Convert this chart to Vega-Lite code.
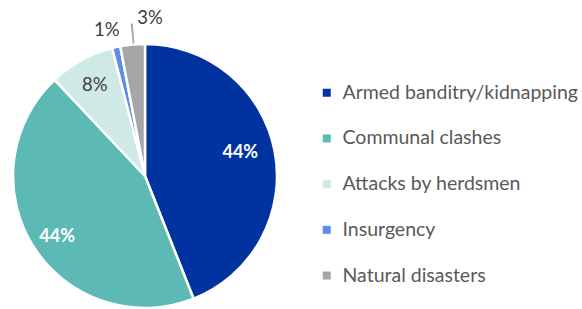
{
  "$schema": "https://vega.github.io/schema/vega-lite/v6.json",
  "width": 290,
  "height": 262,
  "autosize": "none",
  "padding": {"left": 0, "top": 45, "right": 292, "bottom": 2},
  "background": "white",
  "config": {"view": {"stroke": null}, "font": "Lato"},
  "layer": [
    {
      "data": {"values": [
        {"category": "Armed banditry/kidnapping", "value": 44, "label": "44%", "order": 1},
        {"category": "Communal clashes", "value": 44, "label": "44%", "order": 2},
        {"category": "Attacks by herdsmen", "value": 8, "label": "8%", "order": 3},
        {"category": "Insurgency", "value": 1, "label": "1%", "order": 4},
        {"category": "Natural disasters", "value": 3, "label": "3%", "order": 5}
      ]},
      "encoding": {
        "theta": {"field": "value", "type": "quantitative", "stack": true},
        "order": {"field": "order", "type": "quantitative"},
        "color": {
          "field": "category",
          "type": "nominal",
          "sort": ["Armed banditry/kidnapping", "Communal clashes", "Attacks by herdsmen", "Insurgency", "Natural disasters"],
          "scale": {
            "domain": ["Armed banditry/kidnapping", "Communal clashes", "Attacks by herdsmen", "Insurgency", "Natural disasters"],
            "range": ["#0033A0", "#5DB9B3", "#CFE9E6", "#5B8EE6", "#A6A6A6"]
          },
          "legend": {
            "title": null,
            "orient": "none",
            "legendX": 317,
            "legendY": 38,
            "padding": 0,
            "symbolType": "square",
            "symbolSize": 64,
            "symbolStrokeWidth": 0,
            "labelFont": "Lato",
            "labelFontSize": 19.5,
            "labelColor": "#595959",
            "labelOffset": 6,
            "labelLimit": 0,
            "rowPadding": 24.7
          }
        }
      },
      "layer": [
        {"mark": {"type": "arc", "outerRadius": 132, "stroke": "white", "strokeWidth": 2.5}},
        {
          "mark": {"type": "text", "radius": 97, "dy": -5, "font": "Lato", "fontSize": 18, "fontWeight": "bold"},
          "encoding": {
            "text": {"condition": {"test": "datum.order == 1", "field": "label"}, "value": ""},
            "color": {"value": "white"}
          }
        },
        {
          "mark": {"type": "text", "radius": 97, "dx": -6, "dy": 9, "font": "Lato", "fontSize": 18, "fontWeight": "bold"},
          "encoding": {
            "text": {"condition": {"test": "datum.order == 2", "field": "label"}, "value": ""},
            "color": {"value": "white"}
          }
        },
        {
          "mark": {"type": "text", "radius": 104, "font": "Lato", "fontSize": 18.5},
          "encoding": {
            "text": {"condition": {"test": "datum.order == 3", "field": "label"}, "value": ""},
            "color": {"value": "#404040"}
          }
        },
        {
          "mark": {"type": "text", "radius": 152, "dx": -5, "dy": 2, "font": "Lato", "fontSize": 18.5},
          "encoding": {
            "text": {"condition": {"test": "datum.order == 4", "field": "label"}, "value": ""},
            "color": {"value": "#404040"}
          }
        },
        {
          "mark": {"type": "text", "radius": 160, "dx": 20, "dy": 1, "font": "Lato", "fontSize": 18.5},
          "encoding": {
            "text": {"condition": {"test": "datum.order == 5", "field": "label"}, "value": ""},
            "color": {"value": "#404040"}
          }
        }
      ]
    },
    {
      "data": {"values": [{"leader": "3%"}]},
      "mark": {"type": "arc", "theta": 6.19, "theta2": 6.203, "radius": 133, "radius2": 153, "fill": "#A6A6A6"},
      "encoding": {}
    }
  ]
}
